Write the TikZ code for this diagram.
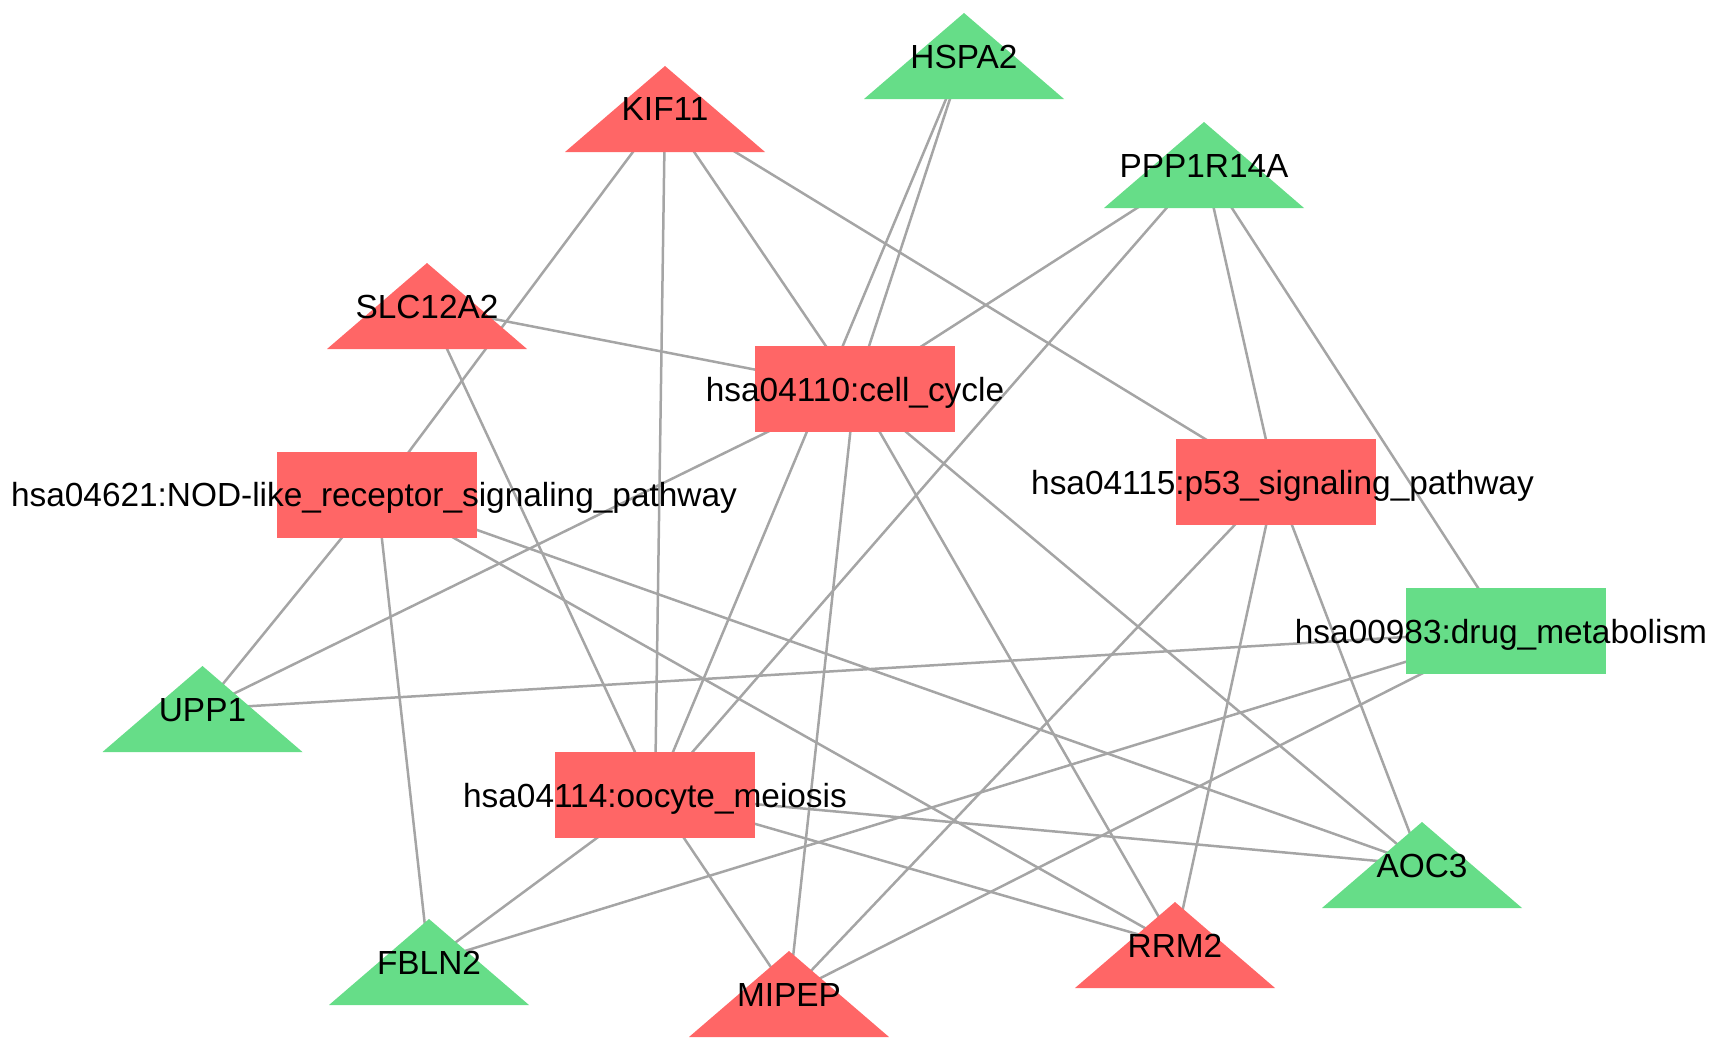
\documentclass[tikz,border=0pt]{standalone}
\usepackage{fontspec}
\setmainfont{Liberation Sans}
\definecolor{nodered}{RGB}{255,102,102}
\definecolor{nodegreen}{RGB}{102,221,136}
\definecolor{edgegray}{RGB}{165,165,165}
\pgfdeclarelayer{edgelayer}
\pgfdeclarelayer{shapelayer}
\pgfsetlayers{edgelayer,shapelayer,main}
\tikzset{
  shp/.style={minimum width=200pt, minimum height=86pt, inner sep=0pt, outer sep=0pt, draw=none},
  lbl/.style={font=\fontsize{33.4}{36}\selectfont, text height=24pt, text depth=0pt, inner sep=0pt, text=black},
  rbox/.style={shp, fill=nodered},
  gbox/.style={shp, fill=nodegreen},
  tri/.style={shp},
  edge/.style={draw=edgegray, line width=2.5pt},
}
\begin{document}
\begin{tikzpicture}[x=1pt,y=-1pt]
\useasboundingbox (0,0) rectangle (1716,1049);
% rectangles (pathways)
\node[rbox, label={[lbl]center:{hsa04110:cell\_cycle}}] (cc) at (855,389) {};
\node[rbox, label={[lbl, xshift=-3pt]center:{hsa04621:NOD-like\_receptor\_signaling\_pathway}}] (nod) at (377,494.5) {};
\node[rbox, label={[lbl, xshift=7pt]center:{hsa04115:p53\_signaling\_pathway}}] (p53) at (1275.5,482) {};
\node[rbox, label={[lbl]center:{hsa04114:oocyte\_meiosis}}] (ooc) at (655,795) {};
\node[gbox, label={[lbl, xshift=-5pt]center:{hsa00983:drug\_metabolism}}] (drug) at (1506,631) {};
% triangles (genes)
\node[tri, label={[lbl]center:{KIF11}}] (kif) at (665,109) {};
\node[tri, label={[lbl]center:{SLC12A2}}] (slc) at (427,306) {};
\node[tri, label={[lbl]center:{HSPA2}}] (hsp) at (964,56) {};
\node[tri, label={[lbl]center:{PPP1R14A}}] (ppp) at (1204,165) {};
\node[tri, label={[lbl]center:{UPP1}}] (upp) at (202.5,709) {};
\node[tri, label={[lbl]center:{FBLN2}}] (fbl) at (429,962) {};
\node[tri, label={[lbl]center:{MIPEP}}] (mip) at (789,994) {};
\node[tri, label={[lbl]center:{RRM2}}] (rrm) at (1175,945) {};
\node[tri, label={[lbl]center:{AOC3}}] (aoc) at (1422,865) {};
\begin{pgfonlayer}{shapelayer}
\foreach \n/\c in {kif/nodered, slc/nodered, mip/nodered, rrm/nodered,
                   hsp/nodegreen, ppp/nodegreen, upp/nodegreen, fbl/nodegreen, aoc/nodegreen}
  \fill[\c] (\n.south west) -- (\n.south east) -- (\n.north) -- cycle;
\end{pgfonlayer}
\begin{pgfonlayer}{edgelayer}
\foreach \a/\b in {kif/nod, kif/ooc, kif/cc, kif/p53,
                   slc/cc, slc/ooc,
                   hsp/cc, hsp/ooc,
                   ppp/cc, ppp/ooc, ppp/p53, ppp/drug,
                   cc/upp, cc/mip, cc/rrm, cc/aoc,
                   nod/upp, nod/fbl, nod/aoc, nod/rrm,
                   upp/drug,
                   ooc/fbl, ooc/mip, ooc/aoc, ooc/rrm,
                   fbl/drug, mip/p53, mip/drug,
                   p53/aoc, p53/rrm}
  \draw[edge] (\a.center) -- (\b.center);
\end{pgfonlayer}
\end{tikzpicture}
\end{document}
